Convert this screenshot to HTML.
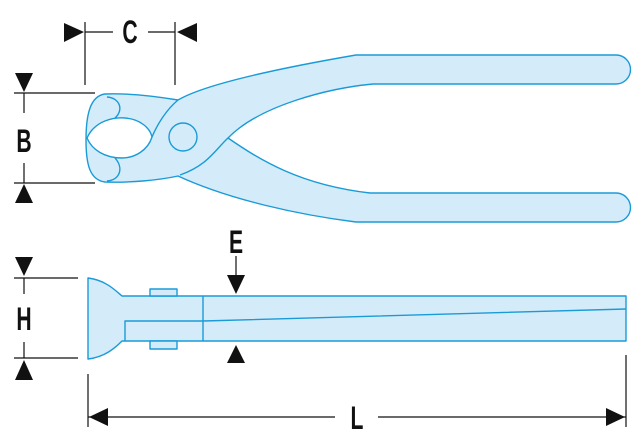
<!DOCTYPE html>
<html><head><style>html,body{margin:0;padding:0;background:#fff}svg{display:block}</style></head><body>
<svg width="644" height="444" viewBox="0 0 644 444" xmlns="http://www.w3.org/2000/svg">
<g fill="#d4ecfa" stroke="#1a9bd7" stroke-width="1.4" stroke-linejoin="round">
<path d="M105,94 C130,93 160,97 178,100 C195,90 240,75 356,55 L616,55 A14.5,14.5 0 0 1 616,84 L373,84 C330,88 260,105 228,138 C260,160 300,185 370,193 L616,193 A14.5,14.5 0 0 1 616,222 L356,222 C300,215 230,200 178,176 C160,180 130,183 105,182 C90,180 86,165 86,140 C86,115 90,96 105,94 Z"/>
<path d="M87,138 C95,120 115,117 125,118 C140,119 150,128 152,137 C148,150 135,158 122,158 C105,158 92,150 87,138 Z" fill="#fff"/>
<path d="M178,100 C166,110 157,125 152,137" fill="none"/>
<path d="M228,138 C215,150 208,165 180,175" fill="none"/>
<path d="M107,97 C120,98 124,110 115,118" fill="none"/>
<path d="M107,181 C120,180 124,168 115,158" fill="none"/>
<circle cx="183" cy="137" r="14"/>
<path d="M88,278 C105,280 115,290 122,296 L626,296 L626,341 L122,341 C115,348 105,357 88,359 Z"/>
<rect x="150" y="289" width="27" height="7"/>
<rect x="150" y="341" width="27" height="8"/>
<path d="M203,296 L203,341 M125,341 L125,321 L203,321 L626,309" fill="none"/>
</g>
<g stroke="#111" stroke-width="1.2" fill="none">
<path d="M85,22 V85 M175,22 V85 M85,32 H113 M148,32 H175"/>
<path d="M14,93 H95 M14,183 H95 M24,93 V113 M24,163 V183"/>
<path d="M14,278 H78 M14,358 H78 M24,278 V294 M24,342 V358"/>
<path d="M236,256 V276"/>
<path d="M88,374 V427 M626,355 V427 M88,417 H335 M378,417 H626"/>
</g>
<g fill="#111">
<polygon points="64,23 84,32 64,42"/>
<polygon points="197,23 177,32 197,42"/>
<polygon points="15,73 33,73 24,92"/>
<polygon points="15,203 33,203 24,184"/>
<polygon points="15,257 33,257 24,276"/>
<polygon points="15,380 33,380 24,360"/>
<polygon points="227,275 245,275 236,294"/>
<polygon points="227,363 245,363 236,345"/>
<polygon points="89,417 108,408 108,426"/>
<polygon points="625,417 606,408 606,426"/>
</g>
<g font-family="Liberation Sans, sans-serif" font-weight="bold" font-size="32" fill="#111" text-anchor="middle">
<text transform="translate(130,43) scale(0.66,1)">C</text>
<text transform="translate(24,152) scale(0.66,1)">B</text>
<text transform="translate(24,330) scale(0.66,1)">H</text>
<text transform="translate(236,253) scale(0.66,1)">E</text>
<text transform="translate(357,429) scale(0.66,1)">L</text>
</g>
</svg>
</body></html>
